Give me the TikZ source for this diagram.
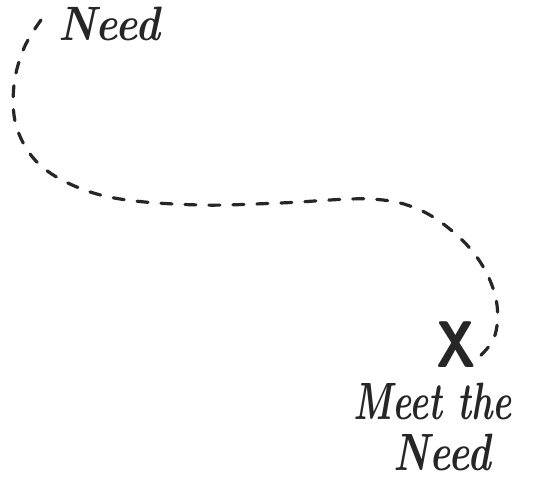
\documentclass[tikz,border=0pt]{standalone}
\usepackage{fontspec}
\begin{document}
\begin{tikzpicture}[x=1pt,y=-1pt,
  hand/.style={font=\fontsize{42}{48}\selectfont\bfseries\itshape, text=black!85, inner sep=0pt},
  dashpath/.style={draw=black!85, line width=3.2pt, line cap=round, dash pattern=on 11pt off 13pt}]
\fill[white] (0,0) rectangle (534,487);
\useasboundingbox (0,0) rectangle (534,487);
\node[hand, anchor=base west] (need) at (58,41) {\scalebox{1}[1.15]{Need}};
\node[font=\fontsize{60}{60}\selectfont\sffamily\bfseries, text=black!85, inner sep=0pt] (x) at (456,345) {\scalebox{0.9}[1.1]{X}};
\node[hand, anchor=base] (meet) at (433,419) {\scalebox{0.86}[1.25]{Meet the}};
\node[hand, anchor=base] (need2) at (442,470) {\scalebox{0.95}[1.25]{Need}};
\coordinate (start) at (41,20);
\coordinate (end) at (476,360);
\draw[dashpath] plot[smooth, tension=0.6] coordinates {(start) (24,48) (14,85) (16,125) (35,160) (70,184) (120,199) (200,205) (280,203) (370,199) (420,210) (460,238) (485,270) (497,305) (494,338) (end)};
\end{tikzpicture}
\end{document}
